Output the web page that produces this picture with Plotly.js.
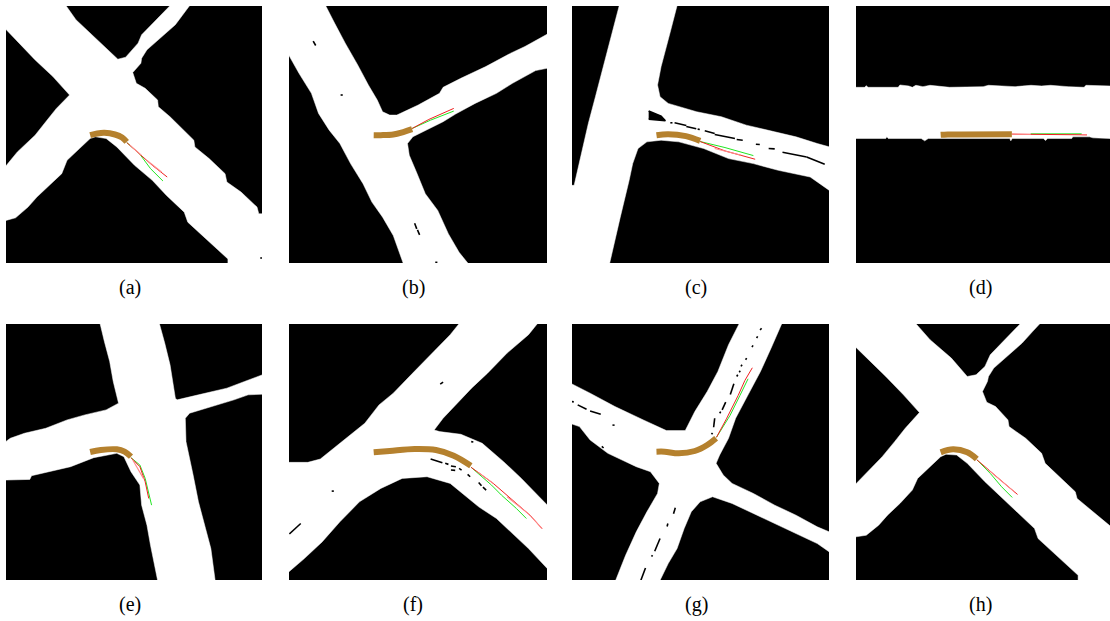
<!DOCTYPE html>
<html><head><meta charset="utf-8">
<script src="https://cdn.plot.ly/plotly-3.0.1.min.js"></script>
<style>html,body{margin:0;padding:0;background:#fff;overflow:hidden}#c{width:1110px;height:621px}</style>
</head><body><div id="c"></div>
<script>
const labels=['(a)','(b)','(c)','(d)','(e)','(f)','(g)','(h)'];
const roadA=[[17,18],[187,18],[215,60],[270,115],[333,178],[355,172],[390,130],[400,105],[480,18],[535,18],[520,40],[495,75],[415,150],[400,175],[398,190],[375,218],[385,250],[410,265],[445,300],[447,320],[480,350],[520,390],[547,420],[550,440],[590,475],[635,520],[640,545],[680,575],[725,620],[730,640],[740,640],[740,788],[643,788],[643,775],[570,705],[530,665],[520,635],[470,585],[430,540],[380,495],[330,440],[300,415],[270,410],[255,415],[225,445],[190,480],[175,520],[140,555],[105,590],[80,620],[45,652],[17,660],[17,498],[50,455],[100,405],[130,365],[160,325],[197,285],[150,230],[100,180],[50,125],[17,88]];
const roadB=[[816,18],[920,18],[945,70],[975,130],[1010,195],[1040,255],[1065,300],[1080,335],[1100,345],[1120,345],[1180,315],[1240,280],[1250,262],[1300,235],[1370,200],[1440,160],[1480,140],[1543,103],[1543,205],[1510,212],[1445,250],[1400,280],[1340,310],[1285,342],[1250,365],[1165,410],[1150,430],[1155,465],[1175,515],[1200,580],[1235,630],[1265,700],[1295,755],[1320,788],[1138,788],[1110,705],[1080,650],[1050,605],[1025,550],[990,490],[960,430],[930,390],[900,340],[880,280],[845,220],[816,165]];
const roadC=[[182,18],[345,18],[325,100],[300,200],[290,255],[297,290],[320,310],[400,335],[470,350],[540,375],[620,395],[680,410],[740,430],[774,440],[774,570],[720,530],[630,510],[560,490],[490,475],[420,445],[350,425],[300,420],[260,425],[235,445],[220,490],[210,540],[185,650],[165,740],[155,788],[48,788],[48,555],[55,555],[75,460],[95,370],[115,290],[140,190],[165,90]];
const roadD=[[850,262],[875,262],[880,257],[885,262],[970,262],[975,255],[1000,258],[1010,262],[1020,256],[1040,260],[1060,256],[1115,262],[1210,260],[1225,256],[1300,260],[1345,256],[1375,258],[1400,256],[1450,260],[1495,262],[1500,256],[1568,258],[1568,415],[1520,413],[1510,410],[1463,410],[1460,415],[1392,415],[1386,421],[1380,415],[1292,415],[1288,422],[1285,415],[1055,415],[1045,422],[1035,415],[942,415],[938,410],[935,415],[850,415]];
const roadE=[[283,27],[450,27],[465,85],[480,150],[495,250],[500,255],[560,240],[640,220],[690,200],[740,180],[740,238],[700,240],[660,255],[600,275],[535,295],[523,310],[525,380],[545,480],[560,560],[580,640],[595,700],[607,795],[445,795],[425,690],[415,630],[400,570],[395,510],[370,470],[350,425],[330,415],[265,428],[200,455],[90,482],[85,493],[17,495],[17,380],[30,370],[70,355],[130,340],[190,315],[240,300],[300,285],[335,265],[320,200],[310,140],[295,80]];
const roadF=[[1295,27],[1515,27],[1490,60],[1430,115],[1375,175],[1330,220],[1290,265],[1250,310],[1225,345],[1240,350],[1300,358],[1360,385],[1420,440],[1470,490],[1520,545],[1543,570],[1543,760],[1490,700],[1440,650],[1400,610],[1350,575],[1310,540],[1270,505],[1205,485],[1135,490],[1075,520],[1015,560],[960,620],[910,680],[860,730],[816,770],[816,442],[870,442],[905,432],[925,415],[970,375],[1030,325],[1070,270],[1110,235],[1160,180],[1220,115],[1270,60]];
const roadG=[[520,27],[640,27],[610,100],[580,170],[545,240],[510,310],[490,370],[465,420],[455,445],[475,480],[500,505],[560,535],[620,570],[680,600],[740,635],[774,650],[774,710],[740,685],[680,655],[620,625],[560,595],[500,565],[445,545],[410,560],[385,590],[365,640],[345,700],[320,745],[297,795],[172,795],[200,720],[230,650],[260,590],[290,535],[295,505],[270,470],[230,455],[150,415],[100,375],[70,335],[48,327],[48,207],[100,235],[170,275],[250,315],[315,347],[368,347],[395,290],[430,230],[460,170],[490,90]];
const roadH=[[850,27],[1020,27],[1060,75],[1120,130],[1165,185],[1190,180],[1215,155],[1230,120],[1315,27],[1370,27],[1350,50],[1320,85],[1240,160],[1225,185],[1222,200],[1208,230],[1220,262],[1245,275],[1280,315],[1283,335],[1330,370],[1375,415],[1385,445],[1430,490],[1470,530],[1475,550],[1520,590],[1565,630],[1568,632],[1568,795],[1478,795],[1478,780],[1405,710],[1365,670],[1355,640],[1305,590],[1265,550],[1215,500],[1165,445],[1135,420],[1105,418],[1090,425],[1060,455],[1025,490],[1010,525],[975,565],[940,600],[915,630],[880,660],[850,665],[850,507],[885,470],[925,425],[960,380],[990,340],[1030,293],[985,240],[935,185],[890,140],[850,97]];

const specksA=[[[734,772],[740,772]]];
const specksB=[[[885,124],[892,137]],[[962,285],[968,285]],[[1170,668],[1176,685]],[[1178,688],[1184,703]],[[1228,785],[1234,785]]];
const specksC=[[[265,333],[300,348],[312,362],[265,357]],[[326,368],[332,368]],[[338,368],[371,376]],[[371,379],[399,386]],[[403,387],[409,388]],[[423,392],[451,400]],[[451,403],[508,415]],[[513,418],[530,420]],[[567,432],[578,433]],[[603,445],[620,446]],[[642,456],[710,470]],[[710,470],[761,492]]];
const specksD=[];
const specksE=[];
const specksF=[[[818,656],[850,625]],[[1242,208],[1250,202]],[[937,528],[943,528]],[[1215,432],[1248,443]],[[1256,445],[1265,448]],[[1272,453],[1286,455]],[[1272,465],[1284,466]],[[1295,460],[1302,465]],[[1319,478],[1326,485]],[[1350,502],[1358,512]],[[1362,516],[1371,525]],[[1329,380],[1335,381]]];
const specksG=[[[48,260],[54,261]],[[65,270],[90,283]],[[100,288],[130,298]],[[163,330],[169,331]],[[133,394],[138,399]],[[583,41],[579,46]],[[572,65],[569,70]],[[559,92],[556,97]],[[541,130],[538,135]],[[528,150],[525,155]],[[523,168],[520,172]],[[516,180],[513,185]],[[505,207],[495,239]],[[482,262],[472,285]],[[468,290],[465,295]],[[451,310],[448,337]],[[445,354],[442,358]],[[340,578],[335,596]],[[319,625],[317,634]],[[297,670],[282,708]],[[276,720],[273,724]],[[256,758],[243,795]]];
const specksH=[];

const historyA=[[255,405],[275,400],[295,398],[325,403],[345,412],[358,425]];
const historyB=[[1055,405],[1075,405],[1110,403],[1140,395],[1163,387]];
const historyC=[[287,405],[320,402],[370,408],[410,422]];
const historyD=[[1090,404],[1110,403],[1291,402]];
const historyE=[[255,411],[285,405],[330,403],[352,410],[370,425]];
const historyF=[[1055,412],[1100,408],[1170,402],[1230,405],[1280,422],[1328,452]];
const historyG=[[287,410],[310,410],[350,415],[395,408],[430,390],[455,370]];
const historyH=[[1090,412],[1125,403],[1165,412],[1192,432]];

const predA=[[358,427],[395,462],[430,495],[472,530]];
const predB=[[1163,385],[1210,358],[1280,325]];
const predC=[[410,424],[480,452],[565,477]];
const predD=[[1291,402],[1344,403],[1503,404]];
const predE=[[370,428],[395,455],[410,500],[420,550]];
const predF=[[1329,457],[1391,505],[1494,600],[1528,640]];
const predG=[[456,367],[484,312],[517,242],[536,197],[557,159]];
const predH=[[1192,434],[1225,465],[1270,505],[1307,538]];

const truthA=[[358,427],[395,462],[425,505],[445,525],[460,542]];
const truthB=[[1163,385],[1215,360],[1280,333]];
const truthC=[[410,424],[480,442],[560,466]];
const truthD=[[1344,401],[1488,401]];
const truthE=[[370,428],[395,450],[410,490],[420,530],[428,570]];
const truthF=[[1329,457],[1386,510],[1414,540],[1456,580],[1484,610]];
const truthG=[[456,367],[494,302],[522,242],[545,192]];
const truthH=[[1192,434],[1230,475],[1262,515],[1292,547]];

const paleA=[[[367,435],[399,465]],[[417,482],[456,515]]];
const paleB=[];
const paleC=[[[451,445],[526,465]]];
const paleD=[[[1291,402],[1344,403]],[[1488,404],[1503,404]]];
const paleE=[[[375,435],[405,490]]];
const paleF=[[[1349,472],[1391,505]],[[1430,545],[1491,597]],[[1500,607],[1528,640]]];
const paleG=[];
const paleH=[[[1225,465],[1300,532]]];

const xRanges=[[18,739],[817,1542],[49,773],[851,1568],[18,739],[817,1542],[49,773],[851,1568]];
const yRanges=[[787,19],[787,19],[787,19],[787,19],[794,28],[794,28],[794,28],[794,28]];
const leftEdges=[6,289,572,856,6,289,572,856];
const rightEdges=[262,547,829,1110,262,547,829,1110];
const topEdges=[6,6,6,6,324,324,324,324];
const bottomEdges=[263,263,263,263,580,580,580,580];
const labelX=[130,413,696,980,130,413,696,980];
const labelY=[287,287,287,287,604,604,604,604];

const W=1110,H=621;
const roads=[roadA,roadB,roadC,roadD,roadE,roadF,roadG,roadH];
const specks=[specksA,specksB,specksC,specksD,specksE,specksF,specksG,specksH];
const histories=[historyA,historyB,historyC,historyD,historyE,historyF,historyG,historyH];
const preds=[predA,predB,predC,predD,predE,predF,predG,predH];
const truths=[truthA,truthB,truthC,truthD,truthE,truthF,truthG,truthH];
const pales=[paleA,paleB,paleC,paleD,paleE,paleF,paleG,paleH];

function joined(segs){const sx=[],sy=[];segs.forEach(s=>{s.forEach(p=>{sx.push(p[0]);sy.push(p[1]);});sx.push(null);sy.push(null);});return [sx,sy];}
const traces=[],layout={width:W,height:H,margin:{l:0,r:0,t:0,b:0},paper_bgcolor:'#fff',plot_bgcolor:'#000',showlegend:false,annotations:[]};
labels.forEach((lab,i)=>{
  const n=i===0?'':String(i+1),xa='x'+n,ya='y'+n;
  layout['xaxis'+n]={domain:[leftEdges[i]/W,rightEdges[i]/W],range:xRanges[i],visible:false,fixedrange:true,anchor:ya};
  layout['yaxis'+n]={domain:[1-bottomEdges[i]/H,1-topEdges[i]/H],range:yRanges[i],visible:false,fixedrange:true,anchor:xa};
  const closed=roads[i].concat([roads[i][0]]);
  traces.push({x:closed.map(p=>p[0]),y:closed.map(p=>p[1]),xaxis:xa,yaxis:ya,mode:'lines',fill:'toself',fillcolor:'#fff',line:{color:'#fff',width:0.5},hoverinfo:'skip'});
  const [sx,sy]=joined(specks[i]);
  if(sx.length)traces.push({x:sx,y:sy,xaxis:xa,yaxis:ya,mode:'lines',fill:'toself',fillcolor:'#000',line:{color:'#000',width:1.6},hoverinfo:'skip'});
  traces.push({x:truths[i].map(p=>p[0]),y:truths[i].map(p=>p[1]),xaxis:xa,yaxis:ya,mode:'lines',line:{color:'#22e622',width:1},hoverinfo:'skip'});
  traces.push({x:preds[i].map(p=>p[0]),y:preds[i].map(p=>p[1]),xaxis:xa,yaxis:ya,mode:'lines',line:{color:'#f02020',width:1},hoverinfo:'skip'});
  const [px,py]=joined(pales[i]);
  if(px.length)traces.push({x:px,y:py,xaxis:xa,yaxis:ya,mode:'lines',line:{color:'#ff8a8a',width:1.1},hoverinfo:'skip'});
  traces.push({x:histories[i].map(p=>p[0]),y:histories[i].map(p=>p[1]),xaxis:xa,yaxis:ya,mode:'lines',line:{color:'#b5812e',width:6,shape:'spline'},hoverinfo:'skip'});
  layout.annotations.push({text:lab,xref:'paper',yref:'paper',x:labelX[i]/W,y:1-labelY[i]/H,xanchor:'center',yanchor:'middle',showarrow:false,font:{family:'Liberation Serif',size:20,color:'#000'}});
});
Plotly.newPlot('c',traces,layout,{staticPlot:true,displayModeBar:false});
</script>
</body></html>
